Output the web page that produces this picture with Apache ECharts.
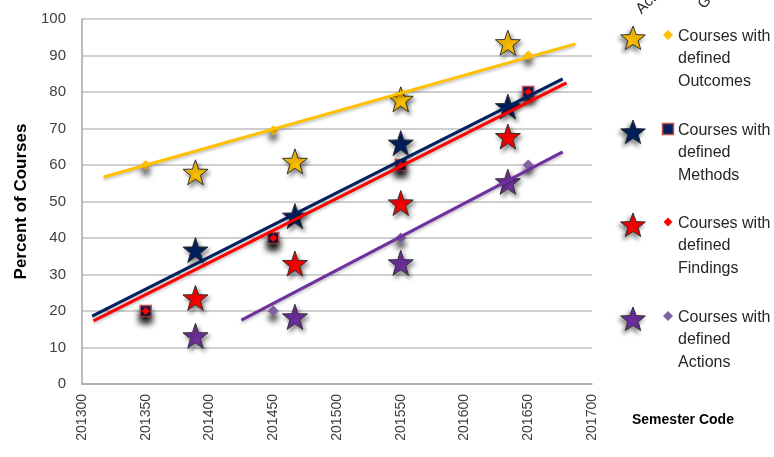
<!DOCTYPE html>
<html>
<head>
<meta charset="utf-8">
<script src="https://cdn.jsdelivr.net/npm/echarts@6/dist/echarts.min.js"></script>
<style>
  html, body { margin: 0; padding: 0; background: #fff; }
  #chart { width: 774px; height: 457px; }
</style>
</head>
<body>
<div id="chart"></div>
<script>
// semester codes for goals (diamonds) and actuals (stars)
const goalX = [201350, 201450, 201550, 201650]
const actualX = [201389, 201467, 201550, 201634]

// goals
const outcomesGoal = [60, 69.5, 79, 90]
const methodsGoal = [20, 40, 60, 80]
const findingsGoal = [20, 40, 60, 80]
const actionsGoal = [null, 20, 40, 60]

// actuals
const outcomesActual = [58, 61, 78, 93.5]
const methodsActual = [36.7, 46, 66, 76]
const findingsActual = [23.6, 33, 49.6, 67.8]
const actionsActual = [13.2, 18.4, 33.2, 55.4]

// trend line ends
const outcomesTrend = [[201317, 56.7], [201687, 93.2]]
const methodsTrend = [[201308, 18.6], [201677, 83.6]]
const findingsTrend = [[201309, 17.3], [201680, 82.5]]
const actionsTrend = [[201425, 17.5], [201677, 63.6]]

const groupNames = ['Outcomes', 'Methods', 'Findings', 'Actions']
const yTicks = [0, 10, 20, 30, 40, 50, 60, 70, 80, 90, 100]

const starPath = 'path://M0,-10L2.35,-3.24L9.51,-3.09L3.8,1.24L5.88,8.09L0,4L-5.88,8.09L-3.8,1.24L-9.51,-3.09L-2.35,-3.24Z'
const starColors = ['#FFC000', '#002060', '#FF0000', '#7030A0']
const lineColors = ['#FFC000', '#002060', '#FF0000', '#7030A0']
const FONT = '"Liberation Sans", Arial, sans-serif'

function pairs(xs, ys) {
  return xs.map((x, i) => [x, ys[i]]).filter(p => p[1] !== null)
}

function trendSeries(name, data, color) {
  return {
    name: name,
    type: 'line',
    data: data,
    symbol: 'none',
    silent: true,
    lineStyle: { color: color, width: 3, shadowColor: 'rgba(0,0,0,0.25)', shadowBlur: 3, shadowOffsetY: 2 }
  }
}

function starSeries(name, ys, color) {
  return {
    name: name,
    type: 'scatter',
    data: pairs(actualX, ys),
    symbol: starPath,
    symbolSize: 25,
    itemStyle: {
      color: color,
      opacity: 1,
      borderColor: '#333',
      borderWidth: 1,
      shadowColor: 'rgba(0,0,0,0.45)',
      shadowBlur: 4,
      shadowOffsetX: 2,
      shadowOffsetY: 3
    }
  }
}

function goalSeries(name, ys, symbol, size, color, border) {
  return {
    name: name,
    type: 'scatter',
    data: pairs(goalX, ys),
    symbol: symbol,
    symbolSize: size,
    itemStyle: {
      color: color,
      opacity: 1,
      borderColor: border || color,
      borderWidth: border ? 1.5 : 0,
      shadowColor: 'rgba(0,0,0,0.9)',
      shadowBlur: 6,
      shadowOffsetY: 6
    }
  }
}

// legend drawn by hand: star + small marker + three lines of text
function starPoints(cx, cy, r) {
  const pts = []
  for (let i = 0; i < 10; i++) {
    const rr = i % 2 === 0 ? r : r * 0.42
    const a = -Math.PI / 2 + i * Math.PI / 5
    pts.push([cx + rr * Math.cos(a), cy + rr * Math.sin(a)])
  }
  return pts
}

const legendTop = [36, 130, 223, 317]
const legendMarks = [
  { type: 'diamond', color: '#FFC000', size: 10 },
  { type: 'rect', color: '#002060', size: 11, border: '#C0504D' },
  { type: 'diamond', color: '#FF0000', size: 9 },
  { type: 'diamond', color: '#8064A2', size: 10 }
]
const legendGraphics = []
legendTop.forEach((y, i) => {
  const m = legendMarks[i]
  legendGraphics.push({
    type: 'polygon',
    shape: { points: starPoints(633, y + 3, 13) },
    style: {
      fill: starColors[i], stroke: '#333', lineWidth: 1,
      shadowColor: 'rgba(0,0,0,0.45)', shadowBlur: 4, shadowOffsetX: -2, shadowOffsetY: 3
    }
  })
  if (m.type === 'rect') {
    legendGraphics.push({
      type: 'rect',
      shape: { x: 668 - m.size / 2, y: y - 1 - m.size / 2, width: m.size, height: m.size },
      style: { fill: m.color, stroke: m.border, lineWidth: 1.5 }
    })
  } else {
    const h = m.size / 2
    legendGraphics.push({
      type: 'polygon',
      shape: { points: [[668, y - 1 - h], [668 + h, y - 1], [668, y - 1 + h], [668 - h, y - 1]] },
      style: { fill: m.color }
    })
  }
  legendGraphics.push({
    type: 'text',
    left: 678,
    top: y - 11,
    style: {
      text: 'Courses with\ndefined\n' + groupNames[i],
      font: '16px ' + FONT,
      lineHeight: 22.5,
      fill: '#262626'
    }
  })
})

const chart = echarts.init(document.getElementById('chart'))
chart.setOption({
  animation: false,
  backgroundColor: '#fff',
  grid: { left: 82, right: 182, top: 19, bottom: 73 },
  xAxis: {
    type: 'value',
    min: 201300,
    max: 201700,
    interval: 50,
    splitLine: { show: false },
    axisLine: { lineStyle: { color: '#a6a6a6', width: 1.5 } },
    axisTick: { show: false },
    axisLabel: {
      rotate: 90,
      margin: 10,
      color: '#404040',
      fontSize: 14,
      fontFamily: FONT,
      formatter: v => String(v)
    }
  },
  yAxis: {
    type: 'value',
    min: yTicks[0],
    max: yTicks[yTicks.length - 1],
    interval: 10,
    name: 'Percent of Courses',
    nameLocation: 'middle',
    nameGap: 46,
    nameTextStyle: {
      color: '#000',
      fontSize: 17,
      fontWeight: 'bold',
      fontFamily: FONT
    },
    axisLine: { show: true, lineStyle: { color: '#a6a6a6', width: 1.5 } },
    axisTick: { show: false },
    splitLine: { lineStyle: { color: '#bfbfbf', width: 1.5 } },
    axisLabel: {
      margin: 16,
      color: '#404040',
      fontSize: 15,
      fontFamily: FONT
    }
  },
  series: [
    trendSeries('Outcomes trend', outcomesTrend, lineColors[0]),
    trendSeries('Methods trend', methodsTrend, lineColors[1]),
    trendSeries('Findings trend', findingsTrend, lineColors[2]),
    trendSeries('Actions trend', actionsTrend, lineColors[3]),
    goalSeries('Outcomes goal', outcomesGoal, 'diamond', 10, '#FFC000'),
    goalSeries('Methods goal', methodsGoal, 'rect', 11, '#002060', '#C0504D'),
    goalSeries('Findings goal', findingsGoal, 'diamond', 8, '#FF0000'),
    goalSeries('Actions goal', actionsGoal, 'diamond', 11, '#8064A2'),
    starSeries('Outcomes actual', outcomesActual, starColors[0]),
    starSeries('Methods actual', methodsActual, starColors[1]),
    starSeries('Findings actual', findingsActual, starColors[2]),
    starSeries('Actions actual', actionsActual, starColors[3])
  ],
  graphic: legendGraphics.concat([
    {
      type: 'text',
      x: 632, y: 420,
      style: {
        text: 'Semester Code',
        font: 'bold 14px ' + FONT,
        fill: '#000',
        verticalAlign: 'middle'
      }
    },
    {
      type: 'text',
      x: 644, y: 17,
      rotation: Math.PI / 4,
      style: { text: 'Actual', font: '15px ' + FONT, fill: '#262626', verticalAlign: 'bottom' }
    },
    {
      type: 'text',
      x: 706, y: 12,
      rotation: Math.PI / 4,
      style: { text: 'Goal', font: '15px ' + FONT, fill: '#262626', verticalAlign: 'bottom' }
    }
  ])
})
</script>
</body>
</html>
